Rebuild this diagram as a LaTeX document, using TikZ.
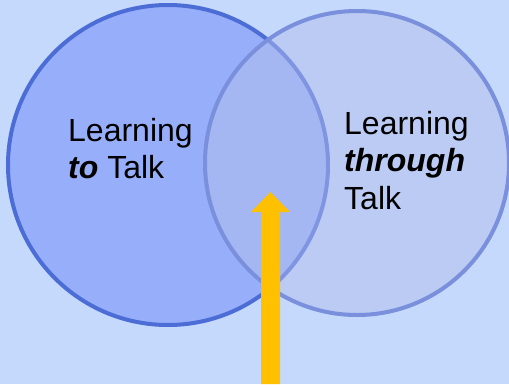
\documentclass[tikz,border=0pt]{standalone}
\usepackage{fontspec}
\setmainfont{Liberation Sans}
\usepackage{tikz}
\usetikzlibrary{arrows}
\usetikzlibrary{positioning}
\definecolor{bgblue}{RGB}{197, 217, 252}
\definecolor{lfill}{RGB}{151, 175, 250}
\definecolor{lline}{RGB}{76, 108, 214}
\definecolor{rfill}{RGB}{179, 191, 238}
\definecolor{rline}{RGB}{122, 144, 220}
\definecolor{myellow}{RGB}{255, 192, 0}

\begin{document}
\begin{tikzpicture}[x=1pt, y=-1pt]
    \fill [bgblue] (0, 0) rectangle (509, 384);
    \useasboundingbox (0, 0) rectangle (509, 384);

    \draw [line width=4pt, lline, fill=lfill] (168, 165) circle (160pt);
    \fill [rfill, opacity=0.5] (357, 163) circle (152pt);
    \draw [line width=4pt, rline] (357, 163) circle (152pt);

    \node [anchor=base west, inner sep=0, align=left,
      font=\fontsize{32}{37}\selectfont] (toTalk) at (68, 178)
      {Learning\\\textbf{\textit{to}} Talk};
    \node [anchor=base west, inner sep=0, align=left,
      font=\fontsize{32}{37.5}\selectfont] (throughTalk) at (344, 209)
      {Learning\\\textbf{\textit{through}}\\Talk};

    % arrow into the overlap
    \fill [myellow] (261, 384) -- (261, 212) -- (251, 212) -- (270.5, 192)
      -- (290, 212) -- (280, 212) -- (280, 384) -- cycle;
  \end{tikzpicture}
\end{document}
